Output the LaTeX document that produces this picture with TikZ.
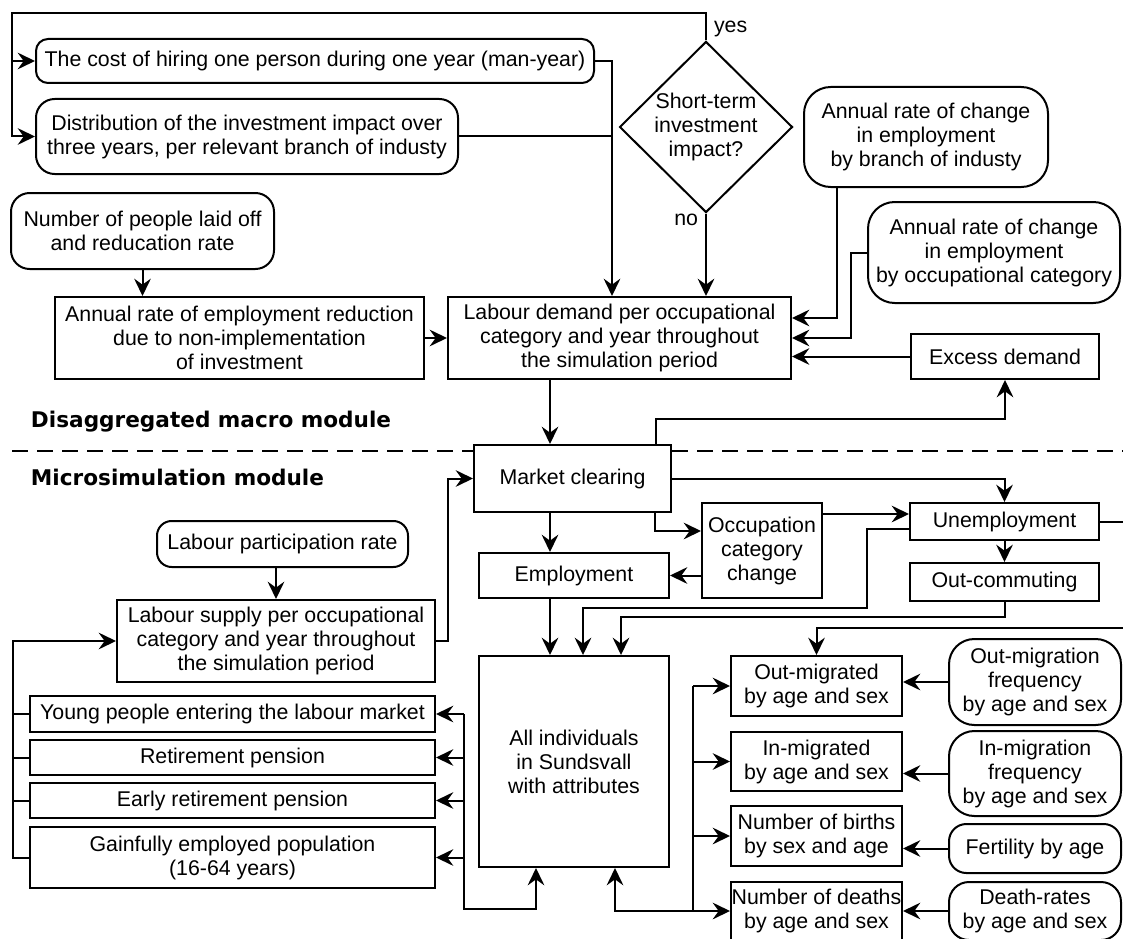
\documentclass[tikz,border=0pt]{standalone}
\usepackage{fontspec}
\setmainfont{Liberation Sans}
\newfontfamily\headfont{DejaVu Sans}
\usetikzlibrary{shapes.geometric,arrows.meta}
\newcommand{\boxat}[7]{%
  \node[#1, minimum width={(#5-#3)*0.75pt}, minimum height={(#6-#4)*0.75pt}] (#2) at ({(#3+#5)/2},{(#4+#6)/2}) {#7};}
\begin{document}
\begin{tikzpicture}[x=0.75pt,y=-0.75pt, line width=1.5pt,
  every node/.style={font=\fontsize{16}{18}\selectfont, inner sep=0pt, align=center},
  sbox/.style={draw, rectangle},
  rbox/.style={draw, rectangle, rounded corners=#1}, rbox/.default=12pt,
  arr/.style={-{Stealth[length=13pt,width=12.5pt,inset=4.5pt]}},
  dashline/.style={dash pattern=on 12pt off 6.75pt},
  head/.style={font=\headfont\bfseries\fontsize{16.2}{18}\selectfont, anchor=west}]
\useasboundingbox (0,0) rectangle (1123,938);
\fill[white] (0,0) rectangle (1123,938);
\clip (0,0) rectangle (1123,938);

% nodes
\boxat{rbox=9pt}{cost}{36}{39}{594}{83}{The cost of hiring one person during one year (man-year)}
\boxat{rbox=14pt}{distr}{36}{99}{458}{174}{Distribution of the investment impact over\\three years, per relevant branch of industy}
\boxat{rbox=14pt}{laid}{11}{193}{274}{269}{Number of people laid off\\and reducation rate}
\boxat{sbox}{reduc}{55}{297}{424}{379}{Annual rate of employment reduction\\due to non-implementation\\of investment}
\boxat{sbox}{demand}{448}{297}{791}{379}{Labour demand per occupational\\category and year throughout\\the simulation period}
\node[draw, diamond, minimum width=129.75pt, minimum height=127.5pt] (diam) at (706,127) {Short-term\\investment\\impact?};
\boxat{rbox=20pt}{branch}{804}{87}{1048}{187}{Annual rate of change\\in employment\\by branch of industy}
\boxat{rbox=20pt}{occcat}{868}{202}{1120}{303}{Annual rate of change\\in employment\\by occupational category}
\boxat{sbox}{excess}{911}{334}{1099}{379}{Excess demand}
\boxat{sbox}{market}{474}{445}{671}{512}{Market clearing}
\boxat{sbox}{occchg}{702}{503}{822}{598}{Occupation\\category\\change}
\boxat{sbox}{unemp}{910}{503}{1099}{540}{Unemployment}
\boxat{sbox}{outcomm}{910}{563}{1099}{601}{Out-commuting}
\boxat{sbox}{empl}{479}{553}{669}{598}{Employment}
\boxat{rbox=11pt}{partic}{157}{521}{408}{567}{Labour participation rate}
\boxat{sbox}{supply}{117}{600}{435}{682}{Labour supply per occupational\\category and year throughout\\the simulation period}
\boxat{sbox}{young}{30}{696}{435}{732}{Young people entering the labour market}
\boxat{sbox}{retire}{30}{740}{435}{775}{Retirement pension}
\boxat{sbox}{early}{30}{783}{435}{818}{Early retirement pension}
\boxat{sbox}{gainful}{30}{827}{435}{888}{Gainfully employed population\\(16-64 years)}
\boxat{sbox}{allind}{479}{656}{669}{867}{All individuals\\in Sundsvall\\with attributes}
\boxat{sbox}{outmig}{731}{656}{902}{716}{Out-migrated\\by age and sex}
\boxat{rbox=19pt}{outfreq}{949}{639}{1121}{725}{Out-migration\\frequency\\by age and sex}
\boxat{sbox}{inmig}{731}{732}{902}{791}{In-migrated\\by age and sex}
\boxat{rbox=19pt}{infreq}{949}{731}{1121}{816}{In-migration\\frequency\\by age and sex}
\boxat{sbox}{births}{731}{806}{902}{866}{Number of births\\by sex and age}
\boxat{rbox=13pt}{fert}{949}{824}{1121}{873}{Fertility by age}
\boxat{sbox}{deaths}{731}{882}{902}{940}{Number of deaths\\by age and sex}
\boxat{rbox=15pt}{deathr}{949}{882}{1121}{940}{Death-rates\\by age and sex}

\node[anchor=west] (yes) at (713,29) {yes};
\node[anchor=east] (no) at (699,220) {no};
\node[head] (macro) at (30,422) {Disaggregated macro module};
\node[head] (micro) at (30,477) {Microsimulation module};

% helper coordinates
\coordinate (loop) at (12,13);
\coordinate (jx) at (612,0);
\coordinate (rb) at (837,318);
\coordinate (ro) at (851,338);
\coordinate (mx) at (550,0);
\coordinate (mex) at (656,419);
\coordinate (moc) at (655,531);
\coordinate (ocu) at (0,514);
\coordinate (ub) at (583,529);
\coordinate (ua) at (867,608);
\coordinate (oc) at (621,617);
\coordinate (ue) at (1140,628);
\coordinate (sm) at (448,0);
\coordinate (lx) at (12.5,0);
\coordinate (al) at (464,909);
\coordinate (ab) at (536,0);
\coordinate (ar) at (693,0);
\coordinate (au) at (615,0);
\coordinate (dl) at (12,451);
\coordinate (dr) at (1123,451);

% macro module connectors
\draw[arr] (diam.north) |- (loop) |- (distr.west);
\draw[arr] (loop |- cost.west) -- (cost.west);
\draw[arr] (cost.east) -| (jx |- demand.north);
\draw (distr.east) -- (distr.east -| jx);
\draw[arr] (diam.south) -- (diam.south |- demand.north);
\draw[arr] (branch.south -| rb) |- (demand.east |- rb);
\draw[arr] (occcat.west) -| (ro) -- (demand.east |- ro);
\draw[arr] (excess.west) -- (excess.west -| demand.east);
\draw[arr] (laid.south) -- (laid.south |- reduc.north);
\draw[arr] (reduc.east) -- (reduc.east -| demand.west);
\draw[arr] (demand.south -| mx) -- (market.north -| mx);
\draw[arr] (market.north -| mex) |- (excess.south |- mex) -- (excess.south);

% dashed separator
\draw[dashline] (dl) -- (market.west |- dl);
\draw[dashline] (market.east |- dl) -- (dr);

% micro module connectors
\draw[arr] (market.east) -| (unemp.north);
\draw[arr] (market.south -| mx) -- (empl.north -| mx);
\draw[arr] (market.south -| moc) |- (occchg.west |- moc);
\draw[arr] (occchg.west |- empl.east) -- (empl.east);
\draw[arr] (occchg.east |- ocu) -- (unemp.west |- ocu);
\draw[arr] (unemp.west |- ub) -| (ua) -| (allind.north -| ub);
\draw[arr] (unemp.south) -- (outcomm.north);
\draw[arr] (outcomm.south) |- (oc) -- (allind.north -| oc);
\draw[arr] (unemp.east) -| (ue) -| (outmig.north);
\draw[arr] (empl.south -| mx) -- (allind.north -| mx);
\draw[arr] (partic.south -| supply.north) -- (supply.north);
\draw[arr] (supply.east) -| (sm |- market.west) -- (market.west);
\draw[arr] (gainful.west) -| (lx |- supply.west) -- (supply.west);
\draw (young.west) -- (young.west -| lx);
\draw (retire.west) -- (retire.west -| lx);
\draw (early.west) -- (early.west -| lx);

\draw[arr] (young.east -| al) -- (al) -| (allind.south -| ab);
\draw[arr] (young.east -| al) -- (young.east);
\draw[arr] (retire.east -| al) -- (retire.east);
\draw[arr] (early.east -| al) -- (early.east);
\draw[arr] (gainful.east -| al) -- (gainful.east);

\draw[arr] (deaths.west -| ar) -| (allind.south -| au);
\draw (outmig.west -| ar) -- (deaths.west -| ar);
\draw[arr] (outmig.west -| ar) -- (outmig.west);
\draw[arr] (inmig.west -| ar) -- (inmig.west);
\draw[arr] (births.west -| ar) -- (births.west);
\draw[arr] (deaths.west -| ar) -- (deaths.west);

\draw[arr] (outfreq.west) -- (outfreq.west -| outmig.east);
\draw[arr] (infreq.west) -- (infreq.west -| inmig.east);
\draw[arr] (fert.west) -- (fert.west -| births.east);
\draw[arr] (deathr.west) -- (deathr.west -| deaths.east);
\end{tikzpicture}
\end{document}
